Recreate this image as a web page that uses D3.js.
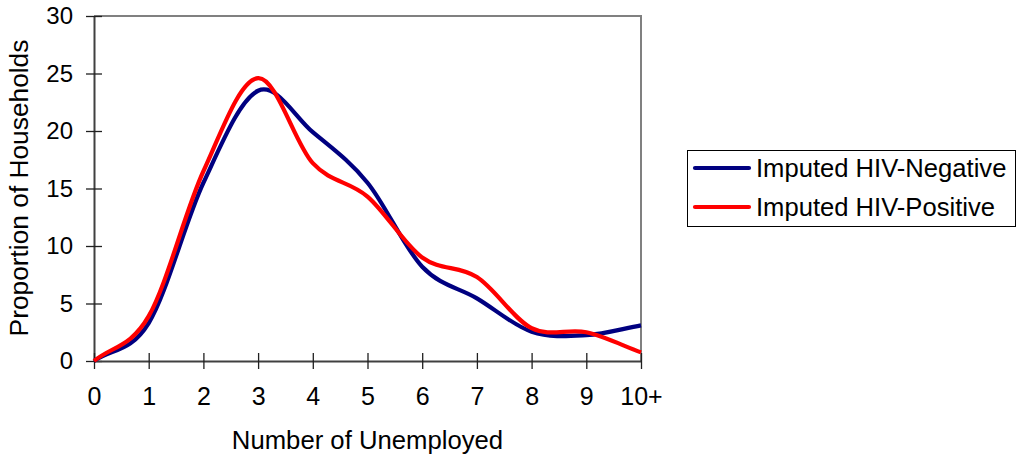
<!DOCTYPE html>
<html>
<head>
<meta charset="utf-8">
<script src="https://cdn.jsdelivr.net/npm/d3@7/dist/d3.min.js"></script>
<style>
  html, body { margin: 0; padding: 0; background: #fff; }
  svg { display: block; }
  text { font-family: Arial, "Liberation Sans", sans-serif; fill: #000; }
</style>
</head>
<body>
<svg id="chart" width="1016" height="463"></svg>
<script>
const categories = ["0", "1", "2", "3", "4", "5", "6", "7", "8", "9", "10+"];
const hivNegative = [0, 3.3, 15.5, 23.5, 19.9, 15.5, 8.2, 5.45, 2.55, 2.25, 3.1];
const hivPositive = [0, 3.9, 16.5, 24.6, 17.2, 14.3, 9.0, 7.3, 2.85, 2.5, 0.75];
const yTicks = [0, 5, 10, 15, 20, 25, 30];
const seriesNames = ["Imputed HIV-Negative", "Imputed HIV-Positive"];
const seriesColors = ["#000080", "#FF0000"];

(function () {
const svg = d3.select("#chart");
const pLeft = 94, pRight = 641, pTop = 16, pBottom = 361;

const x = d3.scalePoint().domain(categories).range([pLeft, pRight]);
const y = d3.scaleLinear().domain([0, 30]).range([pBottom, pTop]);

// Excel-like smoothed curve (Catmull-Rom interior, full-chord end tangents)
function excelSmooth(context) {
  let pts = [];
  return {
    areaStart() {}, areaEnd() {},
    lineStart() { pts = []; },
    point(px, py) { pts.push([+px, +py]); },
    lineEnd() {
      const n = pts.length;
      if (!n) return;
      context.moveTo(pts[0][0], pts[0][1]);
      const tan = i => {
        if (i === 0) return [pts[1][0] - pts[0][0], pts[1][1] - pts[0][1]];
        if (i === n - 1) return [pts[n-1][0] - pts[n-2][0], pts[n-1][1] - pts[n-2][1]];
        return [(pts[i+1][0] - pts[i-1][0]) / 2, (pts[i+1][1] - pts[i-1][1]) / 2];
      };
      for (let i = 0; i < n - 1; i++) {
        const a = pts[i], b = pts[i+1], ta = tan(i), tb = tan(i+1);
        context.bezierCurveTo(a[0] + ta[0] / 3, a[1] + ta[1] / 3,
                              b[0] - tb[0] / 3, b[1] - tb[1] / 3,
                              b[0], b[1]);
      }
    }
  };
}

// top and right border
svg.append("path")
  .attr("d", `M${pLeft},${pTop}H${pRight}V${pBottom}`)
  .attr("fill", "none").attr("stroke", "#808080").attr("stroke-width", 2);

// Y axis
const gy = svg.append("g").attr("transform", `translate(${pLeft},0)`)
  .call(d3.axisLeft(y).tickValues(yTicks).tickSize(8).tickSizeOuter(0).tickPadding(13));
gy.select(".domain").attr("stroke", "#404040").attr("stroke-width", 2);
gy.selectAll(".tick line").attr("x1", 8).attr("x2", -8).attr("stroke", "#202020").attr("stroke-width", 1.3);
gy.selectAll(".tick text").style("font-size", "24px").attr("fill", "#000");

// X axis
const gx = svg.append("g").attr("transform", `translate(0,${pBottom})`)
  .call(d3.axisBottom(x).tickSize(8).tickSizeOuter(0).tickPadding(18));
gx.select(".domain").attr("stroke", "#404040").attr("stroke-width", 2);
gx.selectAll(".tick line").attr("y1", -8).attr("y2", 8).attr("stroke", "#202020").attr("stroke-width", 1.3);
gx.selectAll(".tick text").style("font-size", "25px").attr("fill", "#000");
svg.selectAll("g").attr("font-family", null).attr("font-size", null);

// Lines
const line = d3.line()
  .x((d, i) => x(categories[i]))
  .y(d => y(d))
  .curve(excelSmooth);

[hivNegative, hivPositive].forEach((s, k) => {
  svg.append("path")
    .datum(s)
    .attr("d", line)
    .attr("fill", "none")
    .attr("stroke", seriesColors[k])
    .attr("stroke-width", 4.2)
    .attr("stroke-linejoin", "round");
});

// Axis titles
svg.append("text")
  .attr("x", 367.5).attr("y", 449)
  .attr("text-anchor", "middle")
  .style("font-size", "25.7px")
  .text("Number of Unemployed");

svg.append("text")
  .attr("transform", "translate(28,188) rotate(-90)")
  .attr("text-anchor", "middle")
  .style("font-size", "26.3px")
  .text("Proportion of Households");

// Legend
const lg = svg.append("g");
lg.append("rect")
  .attr("x", 687.5).attr("y", 150.5)
  .attr("width", 328).attr("height", 76)
  .attr("fill", "#fff").attr("stroke", "#000").attr("stroke-width", 1);
seriesNames.forEach((name, k) => {
  const yy = 168 + k * 39;
  lg.append("line")
    .attr("x1", 695).attr("x2", 749).attr("y1", yy).attr("y2", yy)
    .attr("stroke", seriesColors[k]).attr("stroke-width", 4.2).attr("stroke-linecap", "round");
  lg.append("text")
    .attr("x", 756).attr("y", yy).attr("dy", "0.36em")
    .style("font-size", "25.6px")
    .text(name);
});
})();
</script>
</body>
</html>
